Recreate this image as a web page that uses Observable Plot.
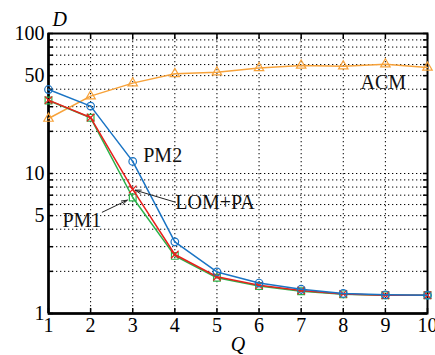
<!DOCTYPE html>
<html>
<head>
<meta charset="utf-8">
<script src="https://cdn.jsdelivr.net/npm/d3@7"></script>
<script src="https://cdn.jsdelivr.net/npm/@observablehq/plot@0.6"></script>
<style>
body { margin: 0; background: #fff; }
svg { font-family: "Liberation Serif", "DejaVu Serif", serif; }
</style>
</head>
<body>
<div id="chart"></div>
<script>
const Q = [1, 2, 3, 4, 5, 6, 7, 8, 9, 10];
const ACM = [24.7, 35.7, 44.2, 51.5, 52.9, 56.8, 59.1, 58.4, 60.4, 57.2];
const PM2 = [39.8, 30.3, 12.2, 3.25, 1.98, 1.65, 1.49, 1.39, 1.36, 1.35];
const LOMPA = [33.4, 25.1, 7.7, 2.64, 1.83, 1.59, 1.46, 1.38, 1.35, 1.35];
const PM1 = [33.2, 25.0, 6.74, 2.58, 1.80, 1.57, 1.44, 1.37, 1.35, 1.35];
const yTickLabels = [1, 5, 10, 50, 100];
const yGrid = [1,2,3,4,5,6,7,8,9,10,20,30,40,50,60,70,80,90,100];
const xTicks = Q;

const labels = [
  {text: "PM2", x: 3.25, y: 13.5},
  {text: "ACM", x: 8.41, y: 44.9},
  {text: "LOM+PA", x: 4.01, y: 6.24},
  {text: "PM1", x: 1.33, y: 4.64}
];
const arrows = [
  {x1: 2.277, y1: 5.29, x2: 2.872, y2: 6.45},
  {x1: 4.01, y1: 6.24, x2: 3.06, y2: 7.6}
];

const rows = (name, vals) => Q.map((q, i) => ({series: name, Q: q, D: vals[i]}));
const acm = rows("ACM", ACM), pm2 = rows("PM2", PM2), lom = rows("LOM+PA", LOMPA), pm1 = rows("PM1", PM1);

const cBlue = "#1a74c4", cRed = "#e8201c", cGreen = "#2bb24a", cOrange = "#f7a23a";

const chart = Plot.plot({
  width: 435,
  height: 355,
  marginLeft: 48,
  marginRight: 8,
  marginTop: 33,
  marginBottom: 42,
  style: {fontFamily: "Liberation Serif, serif", background: "white"},
  x: {domain: [1, 10]},
  y: {type: "log", domain: [1, 100]},
  marks: [
    Plot.gridY(yGrid, {stroke: "black", strokeOpacity: 1, strokeDasharray: "1.3,2.7", strokeWidth: 1}),
    Plot.gridX(xTicks, {stroke: "black", strokeOpacity: 1, strokeDasharray: "1.3,2.7", strokeWidth: 1}),
    Plot.axisY(yGrid, {anchor: "left", tickSize: -5, text: null, strokeWidth: 1.5, label: null}),
    Plot.axisY(yGrid, {anchor: "right", tickSize: -5, text: null, strokeWidth: 1.5, label: null}),
    Plot.axisX(xTicks, {anchor: "top", tickSize: -5, text: null, strokeWidth: 1.5, label: null}),
    Plot.axisX(xTicks, {anchor: "bottom", tickSize: -5, text: null, strokeWidth: 1.5, label: null}),
    Plot.text(yTickLabels, {y: d => d, text: d => String(d), frameAnchor: "left", textAnchor: "end", dx: -4, fontSize: 20, fill: "black"}),
    Plot.axisX(xTicks, {anchor: "bottom", tickSize: 0, tickPadding: 4, fontSize: 20, tickFormat: d => String(d), label: null, fill: "black"}),
    Plot.frame({stroke: "black", strokeWidth: 2}),
    Plot.ruleX([1], {stroke: "black", strokeWidth: 2.5}),
    Plot.ruleY([1], {stroke: "black", strokeWidth: 2.5}),
    Plot.line(acm, {x: "Q", y: "D", stroke: cOrange, strokeWidth: 1.5}),
    Plot.dot(acm, {x: "Q", y: "D", symbol: "triangle", r: 3.5, stroke: cOrange, strokeWidth: 1.2}),
    Plot.line(pm1, {x: "Q", y: "D", stroke: cGreen, strokeWidth: 1.5}),
    Plot.dot(pm1, {x: "Q", y: "D", symbol: "square", r: 3.8, stroke: cGreen, strokeWidth: 1.2}),
    Plot.line(lom, {x: "Q", y: "D", stroke: cRed, strokeWidth: 1.5}),
    Plot.dot(lom, {x: "Q", y: "D", symbol: "times", r: 3.5, stroke: cRed, strokeWidth: 1.2}),
    Plot.line(pm2, {x: "Q", y: "D", stroke: cBlue, strokeWidth: 1.5}),
    Plot.dot(pm2, {x: "Q", y: "D", symbol: "circle", r: 3.8, stroke: cBlue, strokeWidth: 1.2}),
    Plot.dot(pm2, {x: "Q", y: "D", symbol: "circle", r: 0.9, fill: cBlue}),
    Plot.arrow(arrows, {x1: "x1", y1: "y1", x2: "x2", y2: "y2", stroke: "#222", strokeWidth: 1, headLength: 9, headAngle: 35}),
    Plot.text(labels, {x: "x", y: "y", text: "text", textAnchor: "start", fontSize: 20, fill: "#111"}),
    Plot.text(["D"], {frameAnchor: "top-left", dx: 4, dy: -22, text: d => d, fontSize: 20, fontStyle: "italic", textAnchor: "start"}),
    Plot.text(["Q"], {frameAnchor: "bottom", dy: 37, dx: 0, text: d => d, fontSize: 20, fontStyle: "italic"})
  ]
});
document.getElementById("chart").appendChild(chart);
</script>
</body>
</html>
